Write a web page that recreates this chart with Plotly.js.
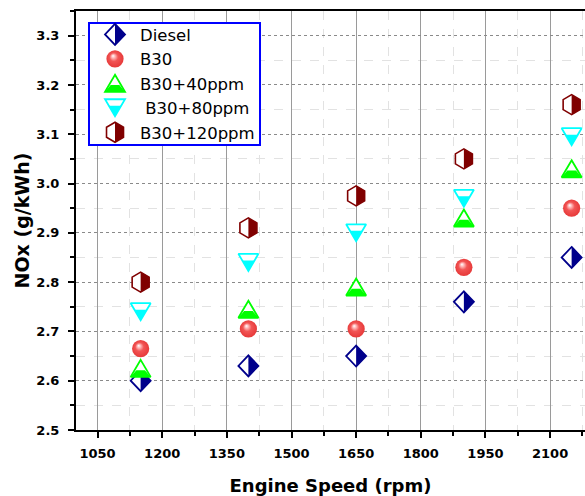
<!DOCTYPE html>
<html>
<head>
<meta charset="utf-8">
<script src="https://cdn.plot.ly/plotly-3.0.1.min.js"></script>
<style>
  html, body { margin: 0; padding: 0; background: #fff; }
  #chart { width: 585px; height: 496px; }
</style>
</head>
<body>
<div id="chart"></div>
<script>
// Engine speed (rpm) for each measurement point
const engineSpeed = [1150, 1400, 1650, 1900, 2150];

// NOx emissions (g/kWh) per fuel blend
const diesel   = [2.60, 2.63, 2.65, 2.76, 2.85];
const b30      = [2.665, 2.705, 2.705, 2.83, 2.95];
const b30p40   = [2.625, 2.745, 2.79, 2.93, 3.03];
const b30p80   = [2.74, 2.84, 2.90, 2.97, 3.095];
const b30p120  = [2.80, 2.91, 2.975, 3.05, 3.16];

const seriesNames = ['Diesel', 'B30', 'B30+40ppm', '\u00a0B30+80ppm', 'B30+120ppm'];
const seriesData  = [diesel, b30, b30p40, b30p80, b30p120];
const seriesColor = ['#00008b', '#ee3b3b', '#00ff00', '#00ffff', '#800000'];
const baseSymbol  = ['diamond', 'circle', 'triangle-up', 'triangle-down', 'hexagon'];

// Half-filled symbol outlines, relative to the marker centre
const GLYPHS = [
  { // diamond: left half open, right half solid
    outline: 'M0,-10.5L10,0L0,10.5L-10,0Z',
    half: 'M0,-10.5L10,0L0,10.5Z', sw: 1.8 },
  { // shaded ball
    ball: 'M8.6,0A8.6,8.6 0 1,1 0,-8.6A8.6,8.6 0 0,1 8.6,0Z' },
  { // triangle up: lower part solid
    outline: 'M0,-8.5L10,8.5L-10,8.5Z',
    half: 'M-4.3,1.8L4.3,1.8L10,8.5L-10,8.5Z', sw: 1.8 },
  { // triangle down: lower part solid
    outline: 'M-10,-8.5L10,-8.5L0,8.5Z',
    half: 'M-6.2,-2L6.2,-2L0,8.5Z', sw: 1.8 },
  { // hexagon: left half open, right half solid
    outline: 'M0,-10L8.5,-5L8.5,5L0,10L-8.5,5L-8.5,-5Z',
    half: 'M0,-10L8.5,-5L8.5,5L0,10Z', sw: 1.6 }
];

const traces = seriesData.map((ys, i) => ({
  type: 'scatter',
  mode: 'markers',
  name: seriesNames[i],
  x: engineSpeed,
  y: ys,
  marker: { symbol: baseSymbol[i], size: 18, color: seriesColor[i],
            line: { color: seriesColor[i], width: 1.5 } },
  hoverinfo: 'x+y+name'
}));

const font = 'DejaVu Sans, Liberation Sans, Arial, sans-serif';

const layout = {
  width: 585,
  height: 496,
  margin: { l: 76, r: 0, t: 11, b: 66, pad: 0 },
  paper_bgcolor: '#ffffff',
  plot_bgcolor: '#ffffff',
  showlegend: true,
  font: { family: font, color: '#000' },
  xaxis: {
    range: [1000, 2181],
    tick0: 1050, dtick: 150,
    ticks: 'outside', ticklen: 6, tickwidth: 2, tickcolor: '#000',
    ticklabelstandoff: 4,
    tickfont: { family: font, size: 13, weight: 'bold', color: '#000' },
    showline: true, linecolor: '#000', linewidth: 2, mirror: true,
    showgrid: true, gridcolor: '#9a9a9a', gridwidth: 1,
    zeroline: false,
    minor: { dtick: 75, ticks: 'outside', ticklen: 4, tickwidth: 2, tickcolor: '#000',
             showgrid: true, gridcolor: '#e2e2e2', gridwidth: 1, griddash: 'dash' },
    title: { text: 'Engine Speed (rpm)', standoff: 21,
             font: { family: font, size: 18, weight: 'bold', color: '#000' } }
  },
  yaxis: {
    range: [2.5, 3.35],
    tick0: 2.5, dtick: 0.1, tickformat: '.1f',
    ticks: 'outside', ticklen: 6, tickwidth: 2, tickcolor: '#000',
    ticklabelstandoff: 6,
    tickfont: { family: font, size: 13, weight: 'bold', color: '#000' },
    showline: true, linecolor: '#000', linewidth: 2,
    showgrid: true, gridcolor: '#8a8a8a', gridwidth: 1, griddash: '3px,3px',
    zeroline: false,
    minor: { dtick: 0.05, ticks: 'outside', ticklen: 4, tickwidth: 2, tickcolor: '#000',
             showgrid: true, gridcolor: '#e2e2e2', gridwidth: 1, griddash: 'dash' },
    title: { text: 'NOx (g/kWh)', standoff: 2,
             font: { family: font, size: 19, weight: 'bold', color: '#000' } }
  },
  legend: {
    x: 0.0236, y: 0.99, xanchor: 'left', yanchor: 'top',
    bgcolor: '#ffffff', bordercolor: '#0000ff', borderwidth: 2,
    font: { family: font, size: 16.5, color: '#000' },
    itemwidth: 40, tracegroupgap: 0
  }
};

// Replace standard symbols with two-tone glyphs
function decorate(p, i) {
  const g = GLYPHS[i];
  const color = seriesColor[i];
  if (g.ball) {
    p.setAttribute('d', g.ball);
    p.style.fill = 'url(#nox-ball)';
    p.style.stroke = 'none';
    return;
  }
  p.setAttribute('d', g.outline);
  p.style.fill = '#ffffff';
  p.style.stroke = color;
  p.style.strokeWidth = g.sw + 'px';
  p.style.strokeLinejoin = 'miter';
  const h = document.createElementNS('http://www.w3.org/2000/svg', 'path');
  h.setAttribute('d', g.half);
  const tr = p.getAttribute('transform');
  if (tr) h.setAttribute('transform', tr);
  h.style.fill = color;
  h.style.stroke = 'none';
  h.style.pointerEvents = 'none';
  p.parentNode.insertBefore(h, p.nextSibling);
}

function addBallGradient(gd) {
  const svg = gd.querySelector('svg.main-svg');
  const ns = 'http://www.w3.org/2000/svg';
  let defs = svg.querySelector('defs');
  if (!defs) { defs = document.createElementNS(ns, 'defs'); svg.insertBefore(defs, svg.firstChild); }
  const rg = document.createElementNS(ns, 'radialGradient');
  rg.setAttribute('id', 'nox-ball');
  rg.setAttribute('cx', '0.5'); rg.setAttribute('cy', '0.5'); rg.setAttribute('r', '0.55');
  rg.setAttribute('fx', '0.38'); rg.setAttribute('fy', '0.32');
  [['0', '#ffffff'], ['0.18', '#fbb'], ['0.45', '#f25555'], ['1', '#e53535']].forEach(([o, c]) => {
    const s = document.createElementNS(ns, 'stop');
    s.setAttribute('offset', o); s.setAttribute('stop-color', c);
    rg.appendChild(s);
  });
  defs.appendChild(rg);
}

// Tighten the legend frame around its entries
function trimLegendFrame(gd) {
  const bg = gd.querySelector('.legend rect.bg');
  if (!bg) return;
  const y = parseFloat(bg.getAttribute('y') || 0);
  const h = parseFloat(bg.getAttribute('height'));
  const w = parseFloat(bg.getAttribute('width'));
  bg.setAttribute('y', y + 7);
  bg.setAttribute('height', h - 13);
  bg.setAttribute('width', w - 1);
}

const gd = document.getElementById('chart');
Plotly.newPlot(gd, traces, layout, { staticPlot: true, displayModeBar: false }).then(() => {
  addBallGradient(gd);
  gd.querySelectorAll('.scatterlayer .trace').forEach((tr, i) => {
    tr.querySelectorAll('path.point').forEach(p => decorate(p, i));
  });
  gd.querySelectorAll('.legend .traces').forEach((tr, i) => {
    tr.querySelectorAll('.legendpoints path.scatterpts').forEach(p => decorate(p, i));
  });
  trimLegendFrame(gd);
});
</script>
</body>
</html>
